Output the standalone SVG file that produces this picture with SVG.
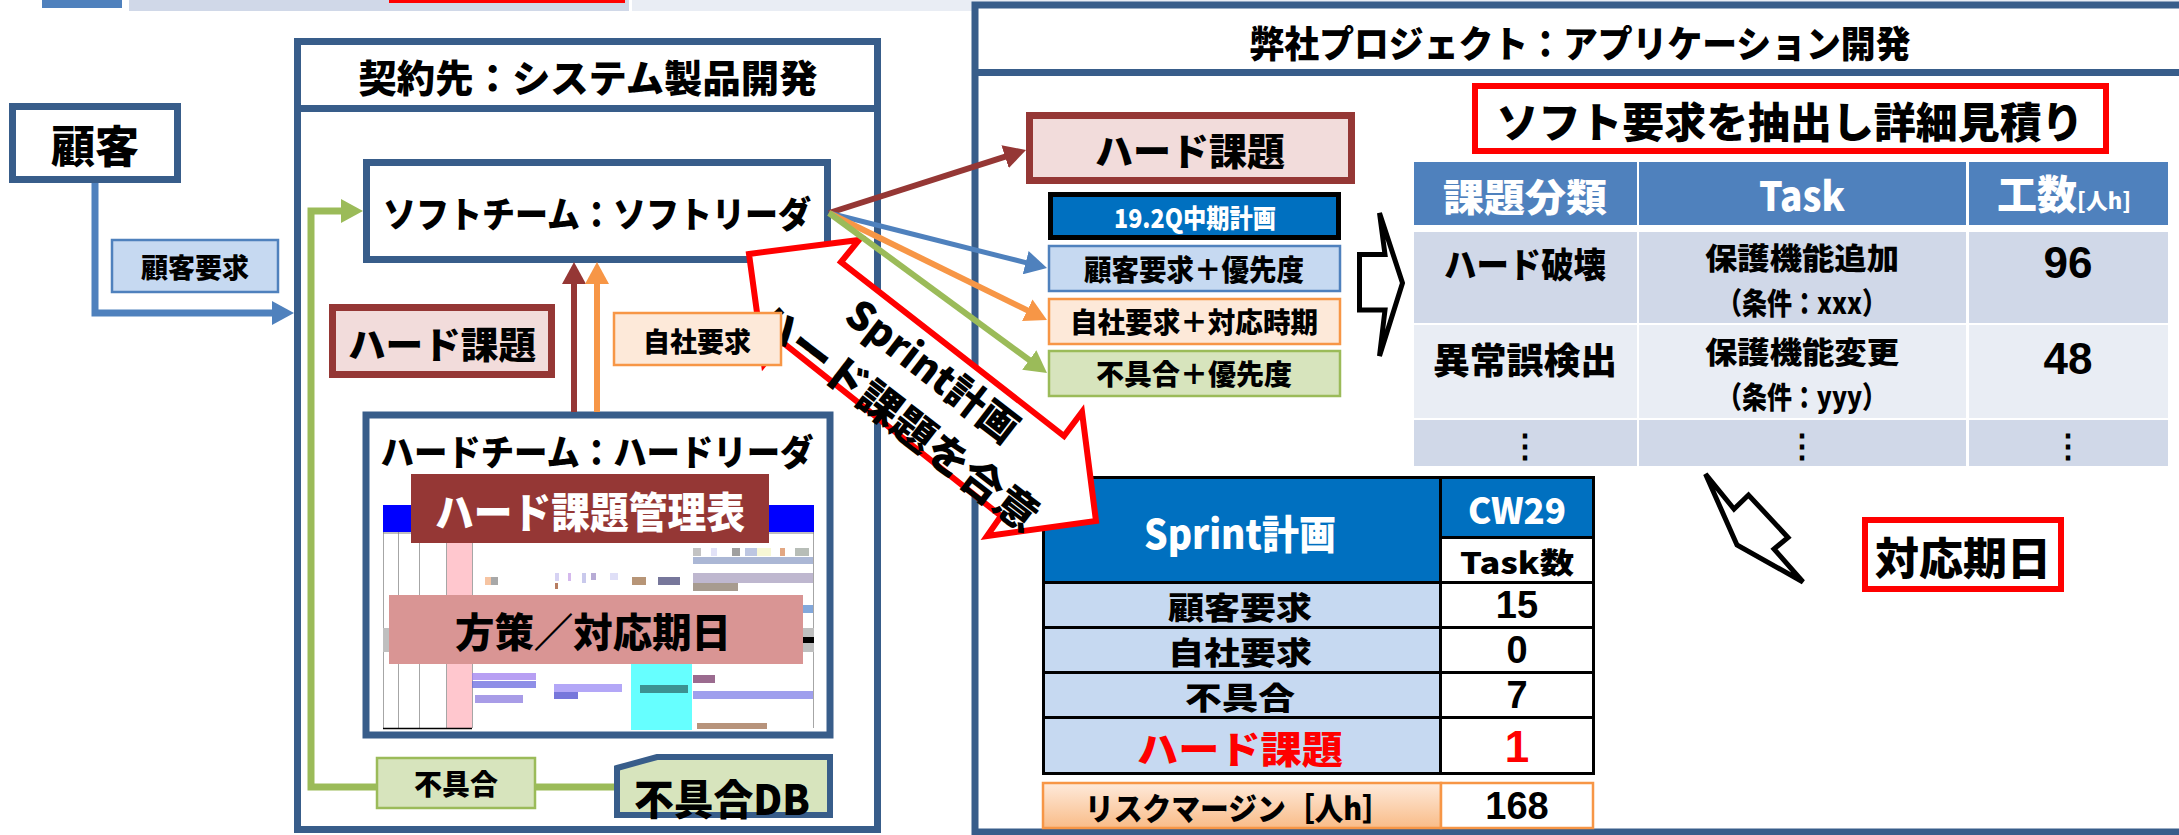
<svg xmlns="http://www.w3.org/2000/svg" width="2179" height="835" viewBox="0 0 2179 835">
<style>
.t{font-family:"Noto Sans CJK JP","Noto Sans",sans-serif;font-weight:900;text-anchor:middle;dominant-baseline:central;fill:#000}
.n{font-family:"Liberation Sans","Noto Sans",sans-serif;font-weight:700}
.base{dominant-baseline:auto}
.w{fill:#fff}
.r{fill:#FF0000}
.frame{fill:#fff;stroke:#385D8A;stroke-width:7}
.pinkbox{fill:#F2DCDB;stroke:#953735;stroke-width:7}
.lblue{fill:#C6D9F1;stroke:#4F81BD;stroke-width:2.5}
.lorange{fill:#FDE9D9;stroke:#F79646;stroke-width:2.5}
.lgreen{fill:#D7E4BD;stroke:#9BBB59;stroke-width:2.5}
.redbox{fill:#fff;stroke:#FF0000;stroke-width:6}
.cell{stroke:#000;stroke-width:3}
.open{fill:#fff;stroke:#000;stroke-width:5;stroke-linejoin:miter}
.c{fill:none}
.gl{stroke:#A6A6A6;stroke-width:1}
</style>
<defs>
<marker id="mk-blue" viewBox="0 0 22 24" refX="6" refY="12" markerWidth="22" markerHeight="24" markerUnits="userSpaceOnUse" orient="auto"><path d="M0,0 L22,12 L0,24 Z" fill="#4F81BD"/></marker>
<marker id="mk-brown" viewBox="0 0 22 24" refX="6" refY="12" markerWidth="22" markerHeight="24" markerUnits="userSpaceOnUse" orient="auto"><path d="M0,0 L22,12 L0,24 Z" fill="#953735"/></marker>
<marker id="mk-orange" viewBox="0 0 22 24" refX="6" refY="12" markerWidth="22" markerHeight="24" markerUnits="userSpaceOnUse" orient="auto"><path d="M0,0 L22,12 L0,24 Z" fill="#F79646"/></marker>
<marker id="mk-green" viewBox="0 0 22 24" refX="6" refY="12" markerWidth="22" markerHeight="24" markerUnits="userSpaceOnUse" orient="auto"><path d="M0,0 L22,12 L0,24 Z" fill="#9BBB59"/></marker>
<linearGradient id="gr-risk" x1="0" y1="0" x2="0" y2="1">
<stop offset="0" stop-color="#FEEADB"/>
<stop offset="1" stop-color="#F9BC88"/>
</linearGradient>
</defs>

<g id="top-strip">
<rect x="42" y="0" width="80" height="8" fill="#4F81BD"/>
<rect x="129" y="0" width="500" height="11" fill="#D0D8E8"/>
<rect x="389" y="0" width="236" height="3" fill="#FF0000"/>
<rect x="632" y="0" width="1547" height="11" fill="#E9EDF4"/>
</g>

<g id="customer">
<rect class="frame" x="12.5" y="106.5" width="165" height="73"/>
<text class="t" x="95" y="144" font-size="44">顧客</text>
</g>

<g id="contractor">
<rect class="frame" x="297.5" y="41.5" width="580" height="788"/>
<line x1="294" y1="108.5" x2="881" y2="108.5" stroke="#385D8A" stroke-width="7"/>
<text class="t" x="588" y="75" font-size="38" textLength="459" lengthAdjust="spacingAndGlyphs">契約先：システム製品開発</text>
</g>

<g id="soft-team">
<rect class="frame" x="366.5" y="162.5" width="461" height="97"/>
<text class="t" x="597" y="212" font-size="36" textLength="428" lengthAdjust="spacingAndGlyphs">ソフトチーム：ソフトリーダ</text>
</g>

<g id="hard-team">
<rect class="frame" x="366" y="415" width="464" height="320" stroke-width="6"/>
<text class="t" x="597" y="450" font-size="36" textLength="433" lengthAdjust="spacingAndGlyphs">ハードチーム：ハードリーダ</text>
<g id="hard-table-screenshot">
<rect x="383" y="505" width="431" height="27" fill="#0000FF"/>
<rect x="446" y="543" width="26" height="185" fill="#FFC7CE"/>
<line class="gl" x1="383.5" y1="532" x2="383.5" y2="728"/>
<line class="gl" x1="398.5" y1="532" x2="398.5" y2="728"/>
<line class="gl" x1="419.5" y1="532" x2="419.5" y2="728"/>
<line class="gl" x1="446.5" y1="532" x2="446.5" y2="728"/>
<line class="gl" x1="472.5" y1="532" x2="472.5" y2="728"/>
<line class="gl" x1="813.5" y1="532" x2="813.5" y2="728"/>
<line x1="383" y1="533" x2="814" y2="533" stroke="#808080" stroke-width="1"/>
<rect x="383" y="628" width="431" height="24" fill="#BFBFBF"/>
<rect x="800" y="637" width="14" height="6" fill="#000"/>
<rect x="631" y="664" width="61" height="66" fill="#66FFFF"/>
<line x1="383" y1="728.5" x2="472" y2="728.5" stroke="#000" stroke-width="1.5"/>
<g opacity="0.75">
<rect x="485" y="577" width="6" height="8" fill="#F4B183"/>
<rect x="491" y="577" width="7" height="8" fill="#8C8C8C"/>
<rect x="555" y="573" width="4" height="8" fill="#C9C3F0"/>
<rect x="555" y="583" width="3" height="6" fill="#A0522D"/>
<rect x="568" y="573" width="3" height="8" fill="#C8A2E8"/>
<rect x="582" y="573" width="4" height="10" fill="#B7B7E6"/>
<rect x="591" y="573" width="5" height="7" fill="#9F8FC7"/>
<rect x="610" y="573" width="8" height="7" fill="#D5D5F5"/>
<rect x="632" y="577" width="14" height="8" fill="#A0724A"/>
<rect x="658" y="577" width="22" height="8" fill="#4A4A7A"/>
<rect x="693" y="548" width="8" height="8" fill="#B0B0B0"/>
<rect x="711" y="548" width="6" height="8" fill="#D9D9F5"/>
<rect x="732" y="548" width="8" height="8" fill="#808080"/>
<rect x="745" y="548" width="12" height="8" fill="#A8B4D8"/>
<rect x="757" y="548" width="14" height="8" fill="#F5F5C8"/>
<rect x="780" y="548" width="5" height="8" fill="#D98A5A"/>
<rect x="795" y="548" width="14" height="8" fill="#9FA89F"/>
<rect x="693" y="557" width="120" height="7" fill="#8FA0C8"/>
<rect x="693" y="573" width="120" height="10" fill="#A9A0C0"/>
<rect x="693" y="583" width="45" height="8" fill="#8A7A6A"/>
<rect x="800" y="605" width="13" height="8" fill="#5A8CD0"/>
<rect x="472" y="673" width="64" height="7" fill="#9F7FF0"/>
<rect x="472" y="681" width="64" height="7" fill="#6A6AE0"/>
<rect x="475" y="695" width="48" height="8" fill="#8B7BE0"/>
<rect x="554" y="684" width="68" height="8" fill="#9A8AF5"/>
<rect x="554" y="692" width="24" height="7" fill="#4A4AD0"/>
<rect x="640" y="685" width="48" height="8" fill="#2E6E6E"/>
<rect x="693" y="675" width="22" height="8" fill="#7A3A6A"/>
<rect x="693" y="691" width="120" height="8" fill="#7F7FE8"/>
<rect x="697" y="723" width="70" height="6" fill="#A07050"/>
</g>
</g>
</g>

<g id="hard-issue-table-label">
<rect x="411" y="474" width="358" height="69" fill="#953735"/>
<text class="t w" x="590" y="509" font-size="42" textLength="310" lengthAdjust="spacingAndGlyphs">ハード課題管理表</text>
</g>

<g id="measure-label">
<rect x="389" y="595" width="414" height="69" fill="#D99594"/>
<text class="t" x="593" y="630" font-size="40" textLength="276" lengthAdjust="spacingAndGlyphs">方策／対応期日</text>
</g>

<g id="hard-issue-left">
<rect class="pinkbox" x="332.5" y="307.5" width="219" height="67"/>
<text class="t" x="442" y="343" font-size="37" textLength="188" lengthAdjust="spacingAndGlyphs">ハード課題</text>
</g>

<g id="customer-req-label">
<rect class="lblue" x="112" y="240" width="166" height="52" stroke-width="2"/>
<text class="t" x="195" y="266" font-size="27">顧客要求</text>
</g>

<g id="defect-label">
<rect class="lgreen" x="377" y="758" width="158" height="50"/>
<text class="t" x="456" y="783" font-size="28">不具合</text>
</g>

<g id="defect-db">
<path d="M617,768 L657,757 H830 V815 H617 Z" fill="#D7E4BD" stroke="#385D8A" stroke-width="6"/>
<text class="t" x="722" y="796" font-size="42" textLength="176" lengthAdjust="spacingAndGlyphs">不具合DB</text>
</g>

<g id="our-project">
<rect class="frame" x="975" y="5" width="1220" height="827" stroke-width="6.5"/>
<line x1="975" y1="72.5" x2="2179" y2="72.5" stroke="#385D8A" stroke-width="7"/>
<text class="t" x="1580" y="42" font-size="37" textLength="661" lengthAdjust="spacingAndGlyphs">弊社プロジェクト：アプリケーション開発</text>
</g>

<g id="hard-issue-right">
<rect class="pinkbox" x="1029.5" y="115.5" width="322" height="65"/>
<text class="t" x="1190" y="148" font-size="38">ハード課題</text>
</g>

<g id="midterm-plan">
<rect x="1050.5" y="194.5" width="288" height="43" fill="#0070C0" stroke="#000" stroke-width="5"/>
<text class="t w" x="1195" y="216" font-size="26" textLength="162" lengthAdjust="spacingAndGlyphs">19.2Q中期計画</text>
</g>

<g id="customer-priority">
<rect class="lblue" x="1049" y="246" width="291" height="45"/>
<text class="t" x="1194" y="268" font-size="29" textLength="220" lengthAdjust="spacingAndGlyphs">顧客要求＋優先度</text>
</g>

<g id="own-timing">
<rect class="lorange" x="1049" y="299" width="291" height="45"/>
<text class="t" x="1194" y="321" font-size="28" textLength="248" lengthAdjust="spacingAndGlyphs">自社要求＋対応時期</text>
</g>

<g id="defect-priority">
<rect class="lgreen" x="1049" y="351" width="291" height="45"/>
<text class="t" x="1194" y="373" font-size="28" textLength="196" lengthAdjust="spacingAndGlyphs">不具合＋優先度</text>
</g>

<g id="open-arrow-right">
<polygon class="open" points="1359.5,254.5 1385,254.5 1379.5,213 1402.5,283 1379.5,356 1385,310 1359.5,310"/>
</g>

<g id="estimate-title">
<rect class="redbox" x="1475" y="86" width="631" height="65"/>
<text class="t" x="1790" y="119" font-size="42" textLength="587" lengthAdjust="spacingAndGlyphs">ソフト要求を抽出し詳細見積り</text>
</g>

<g id="estimate-table">
<rect x="1414" y="162" width="223" height="63" fill="#4F81BD"/>
<rect x="1639" y="162" width="327" height="63" fill="#4F81BD"/>
<rect x="1969" y="162" width="199" height="63" fill="#4F81BD"/>
<rect x="1414" y="232" width="223" height="91" fill="#D0D8E8"/>
<rect x="1639" y="232" width="327" height="91" fill="#D0D8E8"/>
<rect x="1969" y="232" width="199" height="91" fill="#D0D8E8"/>
<rect x="1414" y="325" width="223" height="93" fill="#E9EDF4"/>
<rect x="1639" y="325" width="327" height="93" fill="#E9EDF4"/>
<rect x="1969" y="325" width="199" height="93" fill="#E9EDF4"/>
<rect x="1414" y="420" width="223" height="46" fill="#D0D8E8"/>
<rect x="1639" y="420" width="327" height="46" fill="#D0D8E8"/>
<rect x="1969" y="420" width="199" height="46" fill="#D0D8E8"/>
<text class="t w" x="1525" y="194" font-size="38" textLength="164" lengthAdjust="spacingAndGlyphs">課題分類</text>
<text class="t w" x="1802" y="194" font-size="40" textLength="86" lengthAdjust="spacingAndGlyphs">Task</text>
<text class="t w base" x="2064" y="209" font-size="40">工数<tspan font-size="22">[人h]</tspan></text>
<text class="t" x="1525" y="262" font-size="35" textLength="162" lengthAdjust="spacingAndGlyphs">ハード破壊</text>
<text class="t" x="1525" y="358" font-size="36" textLength="184" lengthAdjust="spacingAndGlyphs">異常誤検出</text>
<text class="t" x="1802" y="256" font-size="30" textLength="194" lengthAdjust="spacingAndGlyphs">保護機能追加</text>
<text class="t" x="1802" y="300.5" font-size="30" textLength="170" lengthAdjust="spacingAndGlyphs">（条件：xxx）</text>
<text class="t" x="1802" y="350" font-size="30" textLength="194" lengthAdjust="spacingAndGlyphs">保護機能変更</text>
<text class="t" x="1802" y="394.5" font-size="30" textLength="170" lengthAdjust="spacingAndGlyphs">（条件：yyy）</text>
<text class="t n" x="2068" y="262" font-size="44">96</text>
<text class="t n" x="2068" y="358" font-size="44">48</text>
<text class="t" x="1525" y="443" font-size="32">⋮</text>
<text class="t" x="1802" y="443" font-size="32">⋮</text>
<text class="t" x="2068" y="443" font-size="32">⋮</text>
</g>

<g id="sprint-table">
<rect class="cell" x="1043.5" y="477.5" width="397" height="105" fill="#0070C0"/>
<rect class="cell" x="1440.5" y="477.5" width="153" height="60" fill="#0070C0"/>
<rect class="cell" x="1440.5" y="537.5" width="153" height="45" fill="#fff"/>
<rect class="cell" x="1043.5" y="582.5" width="397" height="45" fill="#C6D9F1"/>
<rect class="cell" x="1440.5" y="582.5" width="153" height="45" fill="#fff"/>
<rect class="cell" x="1043.5" y="627.5" width="397" height="45" fill="#C6D9F1"/>
<rect class="cell" x="1440.5" y="627.5" width="153" height="45" fill="#fff"/>
<rect class="cell" x="1043.5" y="672.5" width="397" height="45" fill="#C6D9F1"/>
<rect class="cell" x="1440.5" y="672.5" width="153" height="45" fill="#fff"/>
<rect class="cell" x="1043.5" y="717.5" width="397" height="56" fill="#C6D9F1"/>
<rect class="cell" x="1440.5" y="717.5" width="153" height="56" fill="#fff"/>
<text class="t w" x="1240" y="532" font-size="40" textLength="192" lengthAdjust="spacingAndGlyphs">Sprint計画</text>
<text class="t w" x="1517" y="508" font-size="36" textLength="98" lengthAdjust="spacingAndGlyphs">CW29</text>
<text class="t" x="1517" y="561" font-size="29" textLength="114" lengthAdjust="spacingAndGlyphs">Task数</text>
<text class="t" x="1240" y="605" font-size="31" textLength="144" lengthAdjust="spacingAndGlyphs">顧客要求</text>
<text class="t" x="1240" y="650" font-size="31" textLength="144" lengthAdjust="spacingAndGlyphs">自社要求</text>
<text class="t" x="1240" y="695" font-size="31" textLength="110" lengthAdjust="spacingAndGlyphs">不具合</text>
<text class="t r" x="1240" y="746" font-size="38" textLength="206" lengthAdjust="spacingAndGlyphs">ハード課題</text>
<text class="t n" x="1517" y="605" font-size="38">15</text>
<text class="t n" x="1517" y="650" font-size="38">0</text>
<text class="t n" x="1517" y="695" font-size="38">7</text>
<text class="t n r" x="1517" y="746" font-size="44">1</text>
</g>

<g id="risk-margin">
<rect x="1043" y="783" width="398" height="45" fill="url(#gr-risk)" stroke="#F79646" stroke-width="2.5"/>
<rect x="1441" y="783" width="152" height="45" fill="#fff" stroke="#F79646" stroke-width="2.5"/>
<text class="t" x="1238" y="806" font-size="31" textLength="306" lengthAdjust="spacingAndGlyphs">リスクマージン［人h］</text>
<text class="t n" x="1517" y="806" font-size="38">168</text>
</g>

<g id="deadline">
<rect class="redbox" x="1865" y="520" width="196" height="69"/>
<text class="t" x="1963" y="556" font-size="44">対応期日</text>
</g>

<g id="open-arrow-deadline">
<polygon class="open" points="1705.5,474 1737,545 1803,582 1774,549 1788,537.5 1748.5,495 1734,509"/>
</g>

<g id="sprint-agreement">
<polygon points="749,254 859,240 841,262 1064,436 1082,412 1096,521 987,536 1001,516 782,342 764,364" fill="#fff" stroke="#FF0000" stroke-width="6" stroke-linejoin="miter"/>
<text class="t" transform="translate(934,369) rotate(37.6)" font-size="40" textLength="205" lengthAdjust="spacingAndGlyphs">Sprint計画</text>
<text class="t" transform="translate(899,414) rotate(37.6)" font-size="42" textLength="345" lengthAdjust="spacingAndGlyphs">ハード課題を合意</text>
</g>

<g id="own-req-label">
<rect class="lorange" x="614" y="313" width="167" height="52" stroke-width="2"/>
<text class="t" x="697" y="340" font-size="27">自社要求</text>
</g>

<g id="connectors">
<path class="c" d="M95,183 V313 H278" stroke="#4F81BD" stroke-width="7" marker-end="url(#mk-blue)"/>
<path class="c" d="M376,787 H311 V211 H347" stroke="#9BBB59" stroke-width="7" marker-end="url(#mk-green)"/>
<path class="c" d="M614,787 H536" stroke="#9BBB59" stroke-width="7"/>
<path class="c" d="M574,412 V278" stroke="#953735" stroke-width="6" marker-end="url(#mk-brown)"/>
<path class="c" d="M597,412 V278" stroke="#F79646" stroke-width="6" marker-end="url(#mk-orange)"/>
<path class="c" d="M829,213 L1010.8,154.9" stroke="#953735" stroke-width="6" marker-end="url(#mk-brown)"/>
<path class="c" d="M829,213 L1031.5,264.1" stroke="#4F81BD" stroke-width="5" marker-end="url(#mk-blue)"/>
<path class="c" d="M829,213 L1032.6,312.9" stroke="#F79646" stroke-width="6" marker-end="url(#mk-orange)"/>
<path class="c" d="M829,213 L1034.1,363.5" stroke="#9BBB59" stroke-width="6" marker-end="url(#mk-green)"/>
</g>
</svg>
